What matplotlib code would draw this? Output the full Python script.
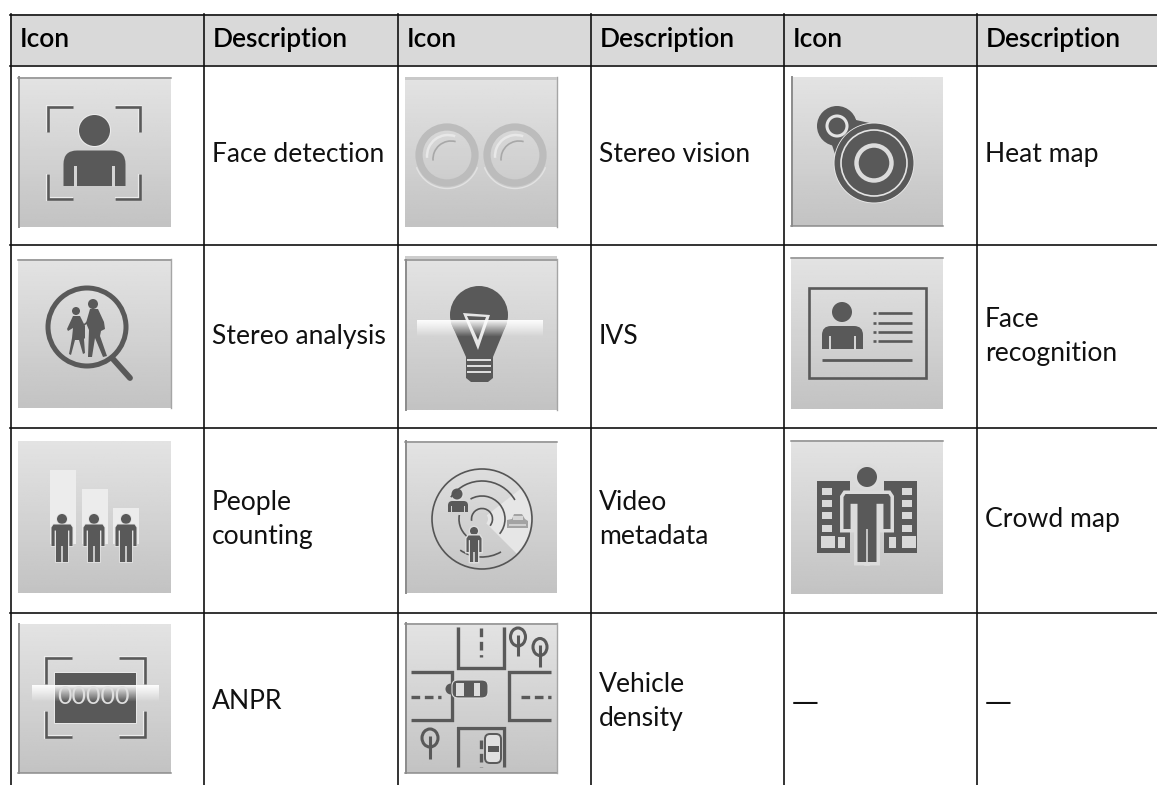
import numpy as np
import matplotlib
matplotlib.use('Agg')
import matplotlib.pyplot as plt
from matplotlib.patches import Rectangle, Circle, Ellipse, Polygon, Arc, Wedge, FancyBboxPatch
import matplotlib.patheffects as pe

# table text
HEADERS = ['Icon', 'Description', 'Icon', 'Description', 'Icon', 'Description']
DESC_1 = ['Face detection', 'Stereo analysis', 'People\ncounting', 'ANPR']
DESC_2 = ['Stereo vision', 'IVS', 'Video\nmetadata', 'Vehicle\ndensity']
DESC_3 = ['Heat map', 'Face\nrecognition', 'Crowd map', '—']
DASH_ICON = '—'

# table layout in pixels
W, H = 1157, 785
COL_X = [10, 203, 397, 590, 783, 976]
ROW_Y = [14, 65, 244, 427, 612]
ROW_BASE = [162, 344, 527, 709]
BOX_X = [(18, 171), (405, 557), (791, 943)]
BOX_Y = [
    [(77, 227), (259, 408), (441, 593), (624, 773)],
    [(77, 227), (256, 410), (441, 593), (623, 773)],
    [(77, 226), (257, 409), (440, 594)],
]

DARK = '#595959'
LINE = '#111111'
FONT = 'Lato'
FS = 19.1

fig = plt.figure(figsize=(W / 100, H / 100), dpi=100)
ax = fig.add_axes([0, 0, 1, 1])
ax.set_xlim(0, W)
ax.set_ylim(H, 0)
ax.axis('off')
ax.set_autoscale_on(False)


def glow(lw=1.2, col='#ececec'):
    return [pe.withStroke(linewidth=lw, foreground=col)]


def box(x0, x1, y0, y1, edges=''):
    grad = np.linspace(0.89, 0.765, 64).reshape(-1, 1)
    ax.imshow(grad, extent=[x0, x1, y1, y0], cmap='gray', vmin=0, vmax=1,
              aspect='auto', zorder=1)
    if 't' in edges:
        ax.plot([x0, x1], [y0 + 0.5, y0 + 0.5], color='#8c8c8c', lw=1.1, zorder=2)
    if 'l' in edges:
        ax.plot([x0 + 0.5, x0 + 0.5], [y0, y1], color='#8c8c8c', lw=1.4, zorder=2)
    if 'b' in edges:
        ax.plot([x0, x1], [y1 - 0.5, y1 - 0.5], color='#8c8c8c', lw=1.1, zorder=2)
    if 'r' in edges:
        ax.plot([x1 - 0.5, x1 - 0.5], [y0, y1], color='#a5a5a5', lw=1.0, zorder=2)


def rect(x0, y0, x1, y1, col=DARK, z=3, fx=None):
    p = Rectangle((x0, y0), x1 - x0, y1 - y0, facecolor=col, edgecolor='none', zorder=z)
    if fx:
        p.set_path_effects(fx)
    ax.add_patch(p)


def circ(x, y, r, col=DARK, z=3, fx=None):
    p = Circle((x, y), r, facecolor=col, edgecolor='none', zorder=z)
    if fx:
        p.set_path_effects(fx)
    ax.add_patch(p)


def ring(x, y, r, lw, col, z=4):
    ax.add_patch(Circle((x, y), r, facecolor='none', edgecolor=col, lw=lw, zorder=z))


def line(xs, ys, lw=1.8, col=DARK, z=3, fx=None, cap='butt'):
    ax.plot(xs, ys, color=col, lw=lw, zorder=z, solid_capstyle=cap, solid_joinstyle='miter',
            path_effects=fx)


def poly(pts, col=DARK, z=3, fx=None):
    p = Polygon(pts, closed=True, facecolor=col, edgecolor='none', zorder=z)
    if fx:
        p.set_path_effects(fx)
    ax.add_patch(p)


def brackets(x0, x1, y0, y1, arm):
    for x, dx in ((x0, arm), (x1, -arm)):
        for y, dy in ((y0, arm), (y1, -arm)):
            line([x + dx, x, x], [y, y, y + dy], lw=1.9, fx=glow(3.0))


def bust(cx, y0, y1, w, slit, col=DARK, z=3):
    # rounded shoulders, cut square at the bottom, two thin slits for the arms
    r = w * 0.22
    p = FancyBboxPatch((cx - w / 2 + r, y0 + r), w - 2 * r, y1 - y0,
                       boxstyle='round,pad=%f,rounding_size=%f' % (r, r),
                       facecolor=col, edgecolor='none', zorder=z)
    ax.add_patch(p)
    p.set_clip_path(Rectangle((cx - w, y0 - 1), 2 * w, y1 - y0 + 1, transform=ax.transData))
    for sx in (-1, 1):
        xa = cx + sx * w * 0.31
        rect(xa - slit / 2, y0 + (y1 - y0) * 0.45, xa + slit / 2, y1 + 0.5, '#d4d4d4', z=z + 1)


def standing(cx, head_y, r, top, arm_end, bottom, w, leg_w, halo=None, col=DARK):
    fx = glow(halo[0], halo[1]) if halo else None
    circ(cx, head_y, r, col, z=5, fx=fx)
    hw = w / 2
    tw = leg_w
    arm = w * 0.15
    sh = top + (arm_end - top) * 0.28
    pts = [(cx - hw + 2, top), (cx + hw - 2, top), (cx + hw, top + 3), (cx + hw, arm_end),
           (cx + hw - arm, arm_end), (cx + hw - arm, sh),
           (cx + tw, sh), (cx + tw, bottom), (cx + 0.8, bottom),
           (cx + 0.8, arm_end), (cx - 0.8, arm_end), (cx - 0.8, bottom), (cx - tw, bottom),
           (cx - tw, sh), (cx - hw + arm, sh),
           (cx - hw + arm, arm_end), (cx - hw, arm_end), (cx - hw, top + 3)]
    poly(pts, col, z=5, fx=fx)


def band(x0, x1, y0, y1):
    # white strip that fades out downwards
    a = np.zeros((32, 1, 4))
    a[:, :, :3] = 1.0
    a[:, 0, 3] = np.linspace(0.95, 0.0, 32)
    ax.imshow(a, extent=[x0, x1, y1, y0], aspect='auto', zorder=6)


def cell_text(x, base, label):
    # two line cells sit 17 px either side of the single line baseline
    parts = label.split('\n')
    for i, part in enumerate(parts):
        y = base + (2 * i - (len(parts) - 1)) * 17
        fam = 'DejaVu Sans' if part == '—' else FONT
        ax.text(x, y + (1 if part == '—' else 0), part, family=fam,
                fontsize=19.4 if part == '—' else FS, color='#111111',
                ha='left', va='baseline', zorder=11)


# header and grid
ax.add_patch(Rectangle((COL_X[0], ROW_Y[0]), W - COL_X[0], ROW_Y[1] - ROW_Y[0],
                       facecolor='#d9d9d9', edgecolor='none', zorder=0))
for y in ROW_Y:
    ax.plot([COL_X[0], W], [y + 0.5, y + 0.5], color=LINE, lw=1.2, zorder=10)
for x in COL_X:
    ax.plot([x + 0.5, x + 0.5], [ROW_Y[0], H], color=LINE, lw=1.2, zorder=10)

for x, label in zip(COL_X, HEADERS):
    ax.text(x + 9.5, 47, label, family=FONT, fontsize=19, fontweight='semibold', color='#000000',
            ha='left', va='baseline', zorder=11)

for x, descs in zip((COL_X[1], COL_X[3], COL_X[5]), (DESC_1, DESC_2, DESC_3)):
    for y, label in zip(ROW_BASE, descs):
        cell_text(x + 9, y, label)
cell_text(COL_X[4] + 9, ROW_BASE[3], DASH_ICON)

# face detection
(x0, x1), (y0, y1) = BOX_X[0], BOX_Y[0][0]
box(x0, x1, y0, y1, 'tl')
brackets(47.5, 140, 106.5, 199, 25)
circ(94.5, 130.5, 15.5, fx=glow(1.5))
bust(94.5, 150.5, 186, 62, 3)

# stereo vision
(x0, x1), (y0, y1) = BOX_X[1], BOX_Y[1][0]
box(x0, x1, y0, y1, 'r')
rect(x0, y0, x1, y0 + 3, '#c9c9c9', z=2)
for cx in (447, 515):
    cy = 155
    ring(cx, cy, 28, 5.2, '#bcbcbc')
    ax.add_patch(Arc((cx, cy + 1), 65, 65, theta1=20, theta2=160, color='#e2e2e2', lw=1.0, zorder=4))
    ax.add_patch(Arc((cx + 1, cy + 1), 42, 42, theta1=175, theta2=290, color='#e8e8e8', lw=1.8, zorder=4))
    ax.add_patch(Arc((cx + 4, cy + 4), 36, 36, theta1=175, theta2=285, color='#a8a8a8', lw=1.2, zorder=4))

# heat map
(x0, x1), (y0, y1) = BOX_X[2], BOX_Y[2][0]
box(x0, x1, y0, y1, 'lb')
circ(837, 126, 20)
poly([(845, 108), (856, 120), (874, 124), (845, 178), (836, 157), (832, 145)])
circ(874, 163, 39.5, fx=glow(1.2))
ring(837, 126, 10, 2.2, '#e4e4e4')
ring(874, 163, 33, 1.2, '#e4e4e4')
ring(874, 163, 17.5, 3.2, '#dcdcdc')

# stereo analysis
(x0, x1), (y0, y1) = BOX_X[0], BOX_Y[0][1]
box(x0, x1, y0, y1, 'tr')
circ(93, 304, 5)
circ(76, 311, 4)
poly([(90, 309), (98, 309), (104, 322), (105, 329), (101, 331), (100, 336), (107, 356),
      (103, 357), (95, 338), (92, 357), (88, 357), (89, 330), (86, 323)])
poly([(73, 316), (80, 316), (85, 326), (85, 338), (84, 339), (85, 353), (83, 354), (79, 340),
      (75, 340), (71, 355), (69, 354), (72, 338), (73, 328), (68, 331), (67, 329)])
line([84, 90], [325, 320], lw=1.2)
ring(87, 327, 39, 3.6, DARK)
line([113, 130], [359, 378], lw=4.2, cap='round')

# ivs
(x0, x1), (y0, y1) = BOX_X[1], BOX_Y[1][1]
box(x0, x1, y0 + 3, y1, 'tlr')
rect(x0, y0, x1, y0 + 3, '#cdcdcd', z=2)
circ(479, 315, 29)
poly([(451, 323), (466, 357), (466, 378), (471, 382), (488, 382), (493, 378), (493, 357), (507, 323)])
for y in (360, 366, 372):
    rect(467, y - 1, 491, y + 1, '#dddddd', z=4)
poly([(463, 313), (490, 315), (478, 350)], '#e6e6e6', z=4)
poly([(467, 316), (486, 317), (478, 340)], DARK, z=4)
band(417, 543, 320, 337)

# face recognition
(x0, x1), (y0, y1) = BOX_X[2], BOX_Y[2][1]
box(x0, x1, y0, y1, 't')
ax.add_patch(Rectangle((809, 288), 117, 90, facecolor='none', edgecolor=DARK, lw=1.9, zorder=3))
circ(842, 312, 10)
bust(842.5, 326, 349, 41, 2)
for y in (313, 323, 332, 341):
    line([873, 875.5], [y, y], lw=1.9)
    line([878, 912], [y, y], lw=1.9)
line([822, 912], [360, 360], lw=2.0)

# people counting
(x0, x1), (y0, y1) = BOX_X[0], BOX_Y[0][2]
box(x0, x1, y0, y1)
for bx0, bx1, by in ((50, 76, 470), (82, 108, 489), (113, 139, 508)):
    rect(bx0, by, bx1, 544, '#ececec', z=2)
for cx in (62, 94, 126):
    standing(cx, 519, 5, 524.5, 546, 562, 21, 6, halo=(1.2, '#e2e2e2'))

# video metadata
(x0, x1), (y0, y1) = BOX_X[1], BOX_Y[1][2]
box(x0, x1, y0, y1, 'tl')
cx, cy = 482, 519
ax.add_patch(Wedge((cx, cy), 49, -38, 45, facecolor='#e6e6e6', edgecolor='none', zorder=2))
circ(cx, cy, 6, '#d2d2d2', z=2)
ring(cx, cy, 50, 1.2, '#555555')
for r, t1, t2 in ((38, 215, 330), (38, 60, 125), (23, 240, 400), (23, 120, 190), (10.5, 170, 400)):
    ax.add_patch(Arc((cx, cy), 2 * r, 2 * r, theta1=t1, theta2=t2, color='#555555', lw=1.2, zorder=4))
circ(457, 494, 5.5, fx=glow(2, '#dddddd'))
bust(458, 501, 512, 20, 1)
standing(474, 531, 4, 535.5, 552, 562, 15, 4, halo=(2, '#dddddd'))
poly([(507, 528), (507, 520), (512, 519), (514, 514), (522, 514), (525, 519), (528, 521), (528, 528)], '#a3a3a3')
rect(513, 516, 523, 520, '#d5d5d5', z=4)
rect(509, 524, 526, 526, '#cfcfcf', z=4)

# crowd map
(x0, x1), (y0, y1) = BOX_X[2], BOX_Y[2][2]
box(x0, x1, y0, y1, 't')
rect(817, 481, 850, 553)
rect(884, 481, 917, 553)
for y in (491, 503, 515, 528):
    rect(822, y - 3.5, 832, y + 3.5, '#d8d8d8', z=4)
    rect(902, y - 3.5, 912, y + 3.5, '#d8d8d8', z=4)
rect(821, 536, 835, 548, '#d8d8d8', z=4)
rect(838, 537, 845, 548, '#d8d8d8', z=4)
rect(902, 536, 916, 548, '#d8d8d8', z=4)
rect(889, 537, 896, 548, '#d8d8d8', z=4)
standing(867, 477, 10, 494, 529, 562, 47, 9.5, halo=(5, '#dcdcdc'))

# anpr
(x0, x1), (y0, y1) = BOX_X[0], BOX_Y[0][3]
box(x0, x1, y0, y1, 'lb')
brackets(46, 145, 658, 737, 26)
rect(55, 673, 136, 723, fx=glow(1.2))
band(32, 159, 685, 702)
ax.text(94, 697, '00000', family=FONT, fontsize=18, color='#dedede', ha='center', va='center', zorder=7)

# vehicle density
(x0, x1), (y0, y1) = BOX_X[1], BOX_Y[1][3]
box(x0, x1, y0, y1, 'tlbr')
for xs, ys in (([458, 458, 504, 504], [627, 668, 668, 627]),
               ([411, 452, 452, 411], [672, 672, 720, 720]),
               ([551, 509, 509, 551], [672, 672, 720, 720]),
               ([458, 458, 504, 504], [767, 728, 728, 767])):
    line(xs, ys, lw=2.4, fx=glow(3, '#d8d8d8'))
for xs, ys in (([481, 481], [628, 657]), ([411, 441], [697, 697]),
               ([521, 551], [697, 697]), ([481, 481], [740, 767])):
    ax.plot(xs, ys, color=DARK, lw=2.4, ls=(0, (2.6, 1.4)), zorder=3)
for tx, ty, rx, ry, ty1 in ((518, 637, 7.5, 9, 656), (540, 647, 7, 8.5, 667), (430, 738, 8, 9, 759)):
    ax.add_patch(Ellipse((tx, ty), 2 * rx, 2 * ry, facecolor='none', edgecolor=DARK, lw=2.2, zorder=3))
    line([tx, tx], [ty - 2, ty1], lw=2.2)
ax.add_patch(FancyBboxPatch((453, 681), 34, 16, boxstyle='round,pad=1,rounding_size=6',
                            facecolor=DARK, edgecolor='#dddddd', lw=0.8, zorder=4))
rect(456, 683, 464, 696, '#dcdcdc', z=5)
rect(474, 683, 480, 696, '#dcdcdc', z=5)
circ(451, 689, 5.5, z=3)
ax.add_patch(FancyBboxPatch((486, 735), 14, 27, boxstyle='round,pad=1,rounding_size=5',
                            facecolor='#e0e0e0', edgecolor=DARK, lw=1.4, zorder=4))
rect(487.5, 746, 498.5, 752, DARK, z=5)

fig.savefig('out.png', dpi=100)
